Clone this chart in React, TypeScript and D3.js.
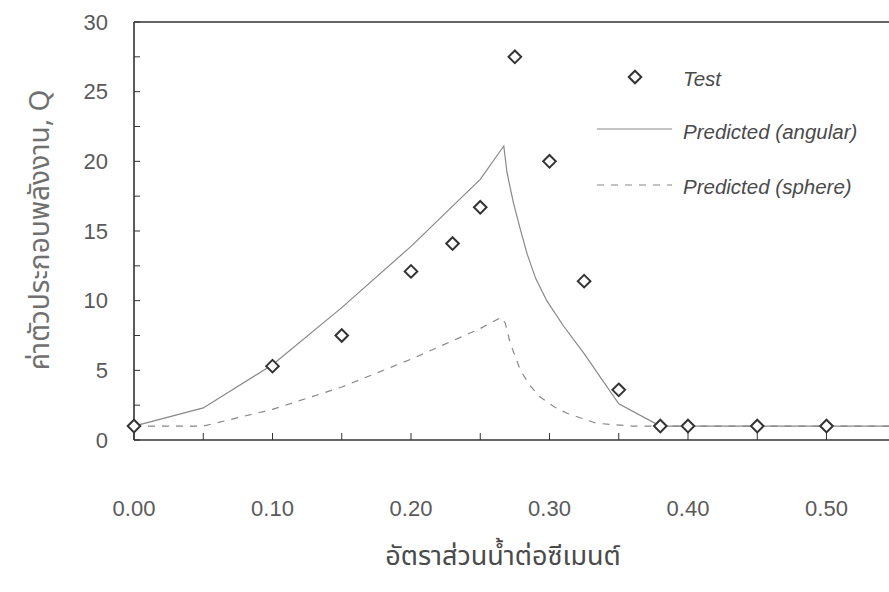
import React from "react";
import * as d3 from "d3";

const testX = [0.0, 0.1, 0.15, 0.2, 0.23, 0.25, 0.275, 0.3, 0.325, 0.35, 0.38, 0.4, 0.45, 0.5];
const testQ = [1.0, 5.3, 7.5, 12.1, 14.1, 16.7, 27.5, 20.0, 11.4, 3.6, 1.0, 1.0, 1.0, 1.0];

const angularX = [0.0, 0.05, 0.1, 0.15, 0.2, 0.25, 0.267, 0.2693, 0.274, 0.279, 0.284, 0.29, 0.298, 0.31, 0.325, 0.35, 0.38, 0.4, 0.5, 0.6];
const angularQ = [1.0, 2.3, 5.4, 9.5, 13.9, 18.7, 21.1, 19.2, 17.0, 15.1, 13.3, 11.6, 10.0, 8.2, 6.2, 2.6, 1.0, 1.0, 1.0, 1.0];

const sphereX = [0.0, 0.05, 0.1, 0.15, 0.2, 0.25, 0.265, 0.268, 0.2715, 0.279, 0.286, 0.293, 0.303, 0.313, 0.334, 0.36, 0.4, 0.5, 0.6];
const sphereQ = [1.0, 1.0, 2.2, 3.8, 5.8, 8.0, 8.8, 8.4, 7.0, 5.0, 3.9, 3.1, 2.4, 1.9, 1.2, 1.0, 1.0, 1.0, 1.0];

const xTickLabels = ["0.00", "0.10", "0.20", "0.30", "0.40", "0.50"];
const yTickLabels = ["0", "5", "10", "15", "20", "25", "30"];

const legendLabels = ["Test", "Predicted (angular)", "Predicted (sphere)"];
const xTitle = "อัตราส่วนน้ำต่อซีเมนต์";
const yTitle = "ค่าตัวประกอบพลังงาน, Q";

const W = 889;
const H = 592;
const left = 134;
const top = 22;
const bottom = 440;
const xUnit = 1385;

export default function App() {
  const x = d3.scaleLinear().domain([0, 0.6]).range([left, left + 0.6 * xUnit]);
  const y = d3.scaleLinear().domain([0, 30]).range([bottom, top]);

  const line = d3
    .line<[number, number]>()
    .x((d) => x(d[0]))
    .y((d) => y(d[1]))
    .curve(d3.curveLinear);

  const angular = line(angularX.map((v, i) => [v, angularQ[i]]));
  const sphere = line(sphereX.map((v, i) => [v, sphereQ[i]]));

  const xMinor = d3.range(0, 0.6001, 0.05);
  const yMinor = d3.range(0, 30.001, 2.5);

  const diamond = (cx: number, cy: number, r = 6.3) =>
    `M${cx},${cy - r}L${cx + r},${cy}L${cx},${cy + r}L${cx - r},${cy}Z`;

  const textFont = "'Liberation Sans', Arial, Helvetica, sans-serif";
  const thaiFont = "'Noto Sans Thai', 'Noto Sans Thai UI', 'Tlwg Typist', 'Garuda', 'Loma', 'DejaVu Sans', 'Noto Sans', sans-serif";
  const axisColor = "#333";

  return (
    <svg
      width={W}
      height={H}
      style={{ position: "absolute", left: 0, top: 0, background: "#fff" }}
    >
      <rect x={0} y={0} width={W} height={H} fill="#fff" />
      {/* frame */}
      <line x1={left} y1={top} x2={x(0.6)} y2={top} stroke={axisColor} strokeWidth={1.6} />
      <line x1={left} y1={top} x2={left} y2={bottom} stroke={axisColor} strokeWidth={1.6} />
      <line x1={left} y1={bottom} x2={x(0.6)} y2={bottom} stroke={axisColor} strokeWidth={1.6} />
      <line x1={x(0.6)} y1={top} x2={x(0.6)} y2={bottom} stroke={axisColor} strokeWidth={1.6} />

      {/* ticks */}
      {xMinor.map((t, i) => (
        <line key={"xt" + i} x1={x(t)} x2={x(t)} y1={bottom} y2={bottom - 7} stroke={axisColor} strokeWidth={1} />
      ))}
      {yMinor.map((t, i) => (
        <line key={"yt" + i} x1={left} x2={left + 6} y1={y(t)} y2={y(t)} stroke={axisColor} strokeWidth={1} />
      ))}

      {/* tick labels */}
      {xTickLabels.map((l) => (
        <text
          key={"xl" + l}
          x={x(+l)}
          y={508}
          textAnchor="middle"
          dominantBaseline="central"
          fontFamily={textFont}
          fontSize={22}
          fill="#5a5a5a"
        >
          {l}
        </text>
      ))}
      {yTickLabels.map((l) => (
        <text
          key={"yl" + l}
          x={108}
          y={y(+l)}
          textAnchor="end"
          dominantBaseline="central"
          fontFamily={textFont}
          fontSize={22}
          fill="#5a5a5a"
        >
          {l}
        </text>
      ))}

      {/* series */}
      <path d={sphere || ""} fill="none" stroke="#888" strokeWidth={1.2} strokeDasharray="7,7" />
      <path d={angular || ""} fill="none" stroke="#888" strokeWidth={1.2} />
      {testX.map((v, i) => (
        <path key={"p" + i} d={diamond(x(v), y(testQ[i]))} fill="#fff" stroke="#333" strokeWidth={2} />
      ))}

      {/* legend */}
      <path d={diamond(635, 77)} fill="#fff" stroke="#333" strokeWidth={2} />
      <line x1={597} x2={672} y1={129} y2={129} stroke="#888" strokeWidth={1.2} />
      <line x1={597} x2={672} y1={185} y2={185} stroke="#888" strokeWidth={1.2} strokeDasharray="7,7" />
      {legendLabels.map((l, i) => (
        <text
          key={"lg" + i}
          x={683}
          y={[78, 131, 186][i]}
          dominantBaseline="central"
          fontFamily={textFont}
          fontStyle="italic"
          fontSize={20.5}
          fill="#4a4a4a"
        >
          {l}
        </text>
      ))}

      {/* axis titles */}
      <text
        x={503}
        y={556}
        textAnchor="middle"
        dominantBaseline="central"
        fontFamily={thaiFont}
        fontSize={27}
        fill="#4a4a4a"
      >
        {xTitle}
      </text>
      <text
        transform="translate(40,230) rotate(-90)"
        textAnchor="middle"
        dominantBaseline="central"
        fontFamily={thaiFont}
        fontSize={28}
        fill="#707070"
      >
        {yTitle}
      </text>
    </svg>
  );
}
